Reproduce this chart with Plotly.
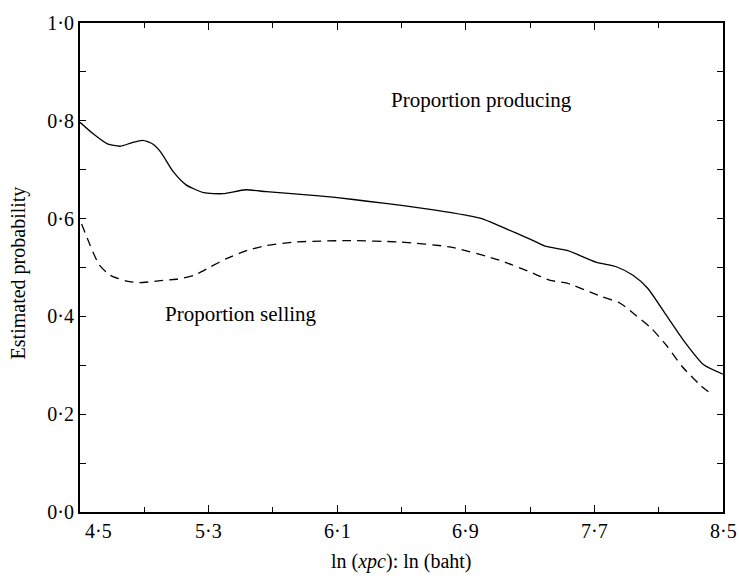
import plotly.graph_objects as go

# ---- data ----
x_producing = [4.50, 4.58, 4.67, 4.75, 4.82, 4.89, 4.95, 5.00, 5.08, 5.16, 5.27, 5.39, 5.53,
               5.66, 5.93, 6.10, 6.30, 6.50, 6.70, 6.90, 7.00, 7.11, 7.32, 7.40, 7.53,
               7.71, 7.84, 7.94, 8.03, 8.15, 8.25, 8.38, 8.50]
y_producing = [0.797, 0.774, 0.753, 0.748, 0.755, 0.760, 0.753, 0.737, 0.696, 0.669, 0.653, 0.651,
               0.659, 0.655, 0.648, 0.643, 0.635, 0.627, 0.618, 0.607, 0.600, 0.585, 0.555,
               0.543, 0.535, 0.511, 0.501, 0.484, 0.458, 0.401, 0.353, 0.301, 0.282]

x_selling = [4.51, 4.56, 4.62, 4.69, 4.79, 4.87, 5.00, 5.10, 5.21, 5.31, 5.41, 5.54, 5.66,
             5.83, 6.00, 6.18, 6.49, 6.80, 7.11, 7.32, 7.42, 7.53, 7.74, 7.86, 7.94,
             8.05, 8.15, 8.25, 8.36, 8.44]
y_selling = [0.589, 0.548, 0.505, 0.484, 0.472, 0.469, 0.473, 0.476, 0.484, 0.501, 0.518, 0.535,
             0.545, 0.552, 0.554, 0.555, 0.552, 0.542, 0.515, 0.488, 0.474, 0.468, 0.441,
             0.427, 0.407, 0.377, 0.340, 0.296, 0.259, 0.238]

x_tick_vals = [4.5, 5.3, 6.1, 6.9, 7.7, 8.5]
x_tick_text = ["4·5", "5·3", "6·1", "6·9", "7·7", "8·5"]
y_tick_vals = [0.0, 0.2, 0.4, 0.6, 0.8, 1.0]
y_tick_text = ["0·0", "0·2", "0·4", "0·6", "0·8", "1·0"]

FONT = "Liberation Serif, Times New Roman, serif"

fig = go.Figure()
fig.add_trace(go.Scatter(x=x_producing, y=y_producing, mode="lines",
                         line=dict(color="black", width=1.3, shape="spline", smoothing=0.6),
                         showlegend=False, hoverinfo="skip"))
fig.add_trace(go.Scatter(x=x_selling, y=y_selling, mode="lines",
                         line=dict(color="black", width=1.3, dash="9px,6px", shape="spline", smoothing=0.6),
                         showlegend=False, hoverinfo="skip"))

annotations = []
for v, t in zip(x_tick_vals, x_tick_text):
    if v == x_tick_vals[0]:
        annotations.append(dict(x=v, y=-0.038, xref="x", yref="paper", text=t, showarrow=False,
                                xanchor="left", yanchor="middle", xshift=3,
                                font=dict(size=20, family=FONT, color="black")))
    else:
        annotations.append(dict(x=v, y=-0.038, xref="x", yref="paper", text=t, showarrow=False,
                                xanchor="center", yanchor="middle",
                                font=dict(size=20, family=FONT, color="black")))

annotations += [
    dict(x=0.5, y=-0.101, xref="paper", yref="paper", text="ln (<i>xpc</i>): ln (baht)",
         showarrow=False, xanchor="center", yanchor="middle",
         font=dict(size=20, family=FONT, color="black")),
    dict(x=-0.0964, y=0.488, xref="paper", yref="paper", text="Estimated probability",
         showarrow=False, xanchor="center", yanchor="middle", textangle=-90,
         font=dict(size=20, family=FONT, color="black")),
    dict(x=6.995, y=0.843, xref="x", yref="y", text="Proportion producing",
         showarrow=False, xanchor="center", yanchor="middle",
         font=dict(size=21, family=FONT, color="black")),
    dict(x=5.50, y=0.405, xref="x", yref="y", text="Proportion selling",
         showarrow=False, xanchor="center", yanchor="middle",
         font=dict(size=21, family=FONT, color="black")),
]

fig.update_layout(
    width=739, height=580,
    margin=dict(l=80, r=16, t=16, b=68),
    paper_bgcolor="white", plot_bgcolor="white",
    font=dict(family=FONT, color="black", size=20),
    annotations=annotations,
    xaxis=dict(range=[4.5, 8.5], showgrid=False, zeroline=False,
               showline=True, linecolor="black", linewidth=2, mirror="ticks",
               ticks="inside", ticklen=7, tickwidth=1, tickcolor="black",
               tickvals=x_tick_vals, showticklabels=False,
               minor=dict(tickvals=[4.9, 5.7, 6.5, 7.3, 8.1], ticks="inside", ticklen=5,
                          tickwidth=1, tickcolor="black", showgrid=False)),
    yaxis=dict(range=[0, 1], showgrid=False, zeroline=False,
               showline=True, linecolor="black", linewidth=2, mirror="ticks",
               ticks="inside", ticklen=6, tickwidth=1, tickcolor="black",
               tickvals=y_tick_vals, ticktext=y_tick_text,
               tickfont=dict(size=20, family=FONT, color="black"),
               minor=dict(tickvals=[0.1, 0.3, 0.5, 0.7, 0.9], ticks="inside", ticklen=6,
                          tickwidth=1, tickcolor="black", showgrid=False)),
)

fig.write_html("out.html")
